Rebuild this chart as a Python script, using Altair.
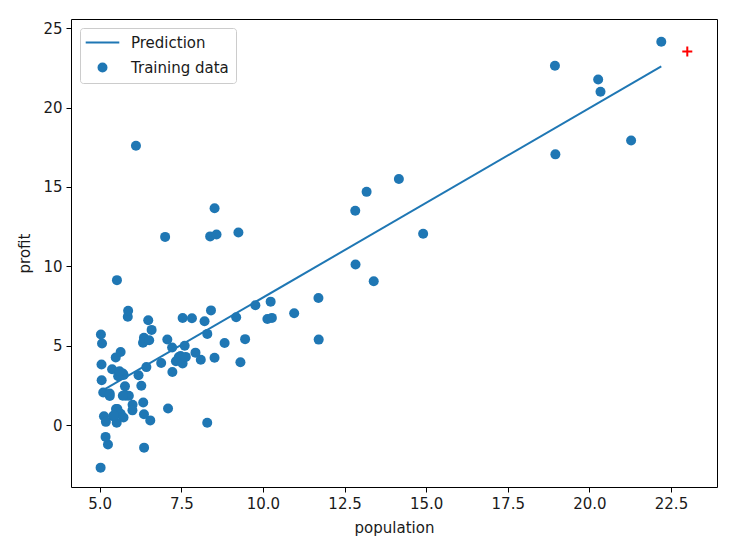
import altair as alt
import pandas as pd

population = [6.1101, 5.5277, 8.5186, 7.0032, 5.8598, 8.3829, 7.4764, 8.5781, 6.4862, 5.0546,
              5.7107, 14.164, 5.734, 8.4084, 5.6407, 5.3794, 6.3654, 5.1301, 6.4296, 7.0708,
              6.1891, 20.27, 5.4901, 6.3261, 5.5649, 18.945, 12.828, 10.957, 13.176, 22.203,
              5.2524, 6.5894, 9.2482, 5.8918, 8.2111, 7.9334, 8.0959, 5.6063, 12.836, 6.3534,
              5.4069, 6.8825, 11.708, 5.7737, 7.8247, 7.0931, 5.0702, 5.8014, 11.7, 5.5416,
              7.5402, 5.3077, 7.4239, 7.6031, 6.3328, 6.3589, 6.2742, 5.6397, 9.3102, 9.4536,
              8.8254, 5.1793, 21.279, 14.908, 18.959, 7.2182, 8.2951, 10.236, 5.4994, 20.341,
              10.136, 7.3345, 6.0062, 7.2259, 5.0269, 6.5479, 7.5386, 5.0365, 10.274, 5.1077,
              5.7292, 5.1884, 6.3557, 9.7687, 6.5159, 8.5172, 9.1802, 6.002, 5.5204, 5.0594,
              5.7077, 7.6366, 5.8707, 5.3054, 8.2934, 13.394, 5.4369]
profit = [17.592, 9.1302, 13.662, 11.854, 6.8233, 11.886, 4.3483, 12.0, 6.5987, 3.8166,
          3.2522, 15.505, 3.1551, 7.2258, 0.71618, 3.5129, 5.3048, 0.56077, 3.6518, 5.3893,
          3.1386, 21.767, 4.263, 5.1875, 3.0825, 22.638, 13.501, 7.0467, 14.692, 24.147,
          -1.22, 5.9966, 12.134, 1.8495, 6.5426, 4.5623, 4.1164, 3.3928, 10.117, 5.4974,
          0.55657, 3.9115, 5.3854, 2.4406, 6.7318, 1.0463, 5.1337, 1.844, 8.0043, 1.0179,
          6.7504, 1.8396, 4.2885, 4.9981, 1.4233, -1.4211, 2.4756, 4.6042, 3.9624, 5.4141,
          5.1694, -0.74279, 17.929, 12.054, 17.054, 4.8852, 5.7442, 7.7754, 1.0173, 20.992,
          6.6799, 4.0259, 1.2784, 3.3411, -2.6807, 0.29678, 3.8845, 5.7014, 6.7526, 2.0576,
          0.47953, 0.20421, 0.67861, 7.5435, 5.3436, 4.2415, 6.7981, 0.92695, 0.152, 2.8214,
          1.8451, 4.2959, 7.2029, 1.9869, 0.14454, 9.0551, 0.61705]

pred_x = [5.0269, 22.203]
pred_y = [2.101, 22.593]

new_x = [23.0]
new_y = [23.54]

x_ticks = [5.0, 7.5, 10.0, 12.5, 15.0, 17.5, 20.0, 22.5]
y_ticks = [0, 5, 10, 15, 20, 25]

blue = "#1f77b4"

train_df = pd.DataFrame({"population": population, "profit": profit, "series": "Training data"})
pred_df = pd.DataFrame({"population": pred_x, "profit": pred_y, "series": "Prediction"})
new_df = pd.DataFrame({"population": new_x, "profit": new_y})

xscale = alt.Scale(domain=[4.12, 23.91], nice=False, zero=False)
yscale = alt.Scale(domain=[-3.9, 25.58], nice=False, zero=False)

xaxis = alt.Axis(values=x_ticks, format=".1f", grid=False, title="population")
yaxis = alt.Axis(values=y_ticks, format="d", grid=False, title="profit")

color_scale = alt.Scale(domain=["Prediction", "Training data"], range=[blue, blue])
shape_scale = alt.Scale(domain=["Prediction", "Training data"], range=["M-4.2,0H4.2", "circle"])

legend = alt.Legend(title=None, orient="top-left", offset=9, labelFontSize=15,
                    symbolSize=64, symbolStrokeWidth=2, symbolStrokeColor=blue,
                    symbolFillColor=blue, strokeColor="#cccccc", fillColor="white",
                    cornerRadius=3, padding=7, rowPadding=8, symbolOffset=8, labelOffset=21,
                    labelColor="#1a1a1a")

line = alt.Chart(pred_df).mark_line(color=blue, strokeWidth=2).encode(
    x=alt.X("population:Q", scale=xscale, axis=xaxis),
    y=alt.Y("profit:Q", scale=yscale, axis=yaxis),
    color=alt.Color("series:N", scale=color_scale, legend=legend),
)

points = alt.Chart(train_df).mark_point(filled=True, opacity=1, size=100).encode(
    x=alt.X("population:Q", scale=xscale),
    y=alt.Y("profit:Q", scale=yscale),
    color=alt.Color("series:N", scale=color_scale, legend=legend),
    shape=alt.Shape("series:N", scale=shape_scale, legend=legend),
)

plus = alt.Chart(new_df).mark_point(shape="M-1,0H1M0,-1V1", filled=False, color="red",
                                    strokeWidth=2, size=100, opacity=1).encode(
    x=alt.X("population:Q", scale=xscale),
    y=alt.Y("profit:Q", scale=yscale),
)

chart = alt.layer(line, points, plus).properties(
    width=646, height=468,
    autosize=alt.AutoSizeParams(type="none"),
    padding={"left": 63, "top": 11, "right": 11, "bottom": 55},
).configure_view(stroke="black", strokeWidth=1).configure_axis(
    domain=False, tickColor="black", tickSize=5, labelFontSize=15, titleFontSize=15,
    labelColor="#1a1a1a", titleColor="#1a1a1a", titleFontWeight="normal",
    labelFont="DejaVu Sans", titleFont="DejaVu Sans", labelPadding=4,
).configure_axisX(titlePadding=9).configure_axisY(titlePadding=10).configure_legend(
    labelFont="DejaVu Sans"
)

chart.save("out.html", embed_options={"renderer": "svg", "actions": False})
